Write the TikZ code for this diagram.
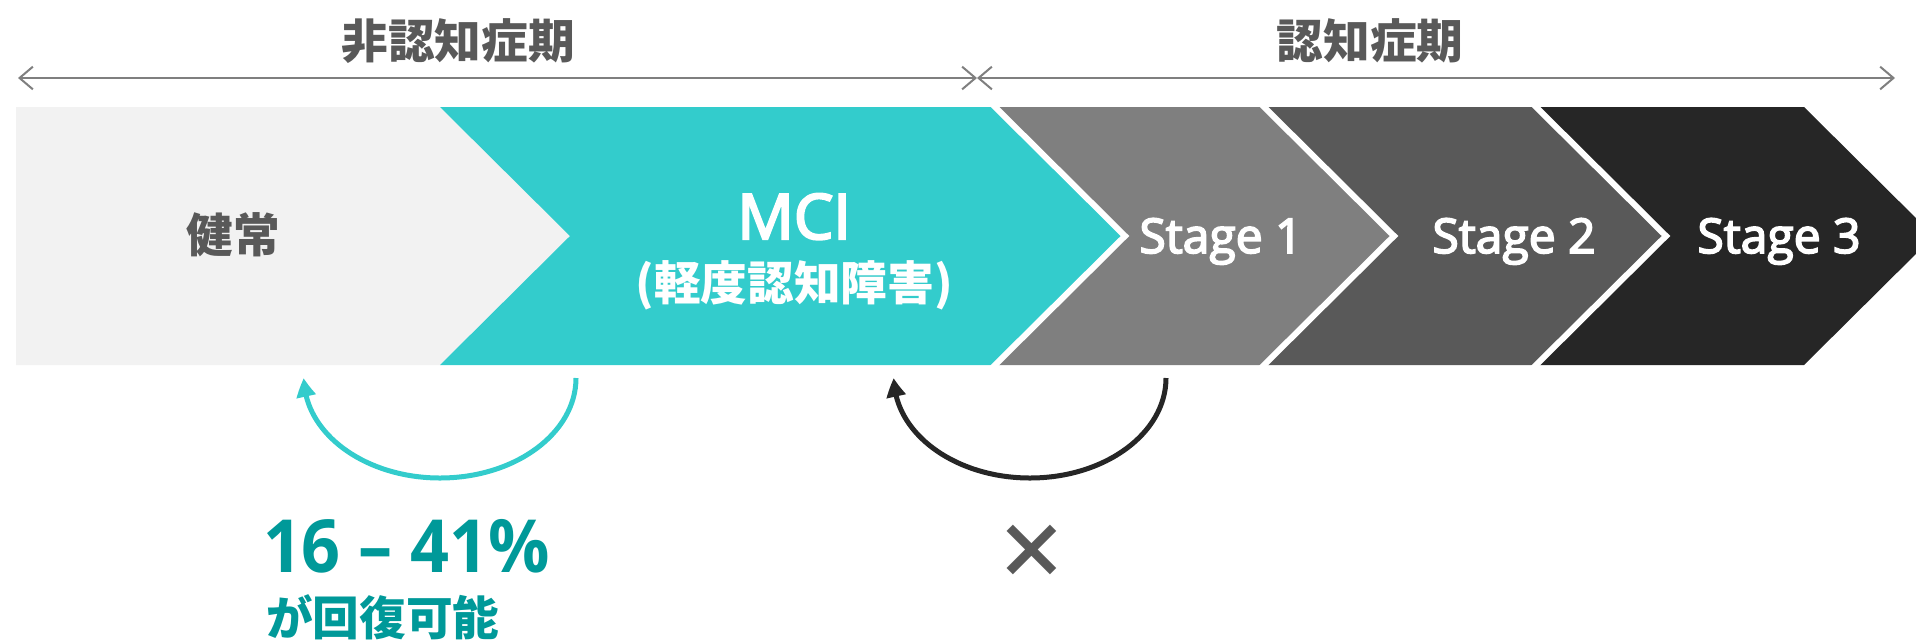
\documentclass[tikz,border=0pt]{standalone}
\usepackage{fontspec}
\setmainfont{Noto Sans CJK JP}
\newfontfamily\jp{Noto Sans CJK JP}
\newfontfamily\lat{Open Sans}
\newfontfamily\latsemi{Open Sans}[FakeBold=3.5]
\newfontfamily\latnum{Open Sans}[FakeStretch=0.93]
\usetikzlibrary{arrows.meta,bending}
\definecolor{teal1}{HTML}{33CCCC}
\definecolor{tealdark}{HTML}{009999}
\definecolor{txtgray}{HTML}{595959}
\definecolor{linegray}{HTML}{7F7F7F}
\definecolor{s1}{HTML}{7F7F7F}
\definecolor{s2}{HTML}{595959}
\definecolor{s3}{HTML}{262626}
\definecolor{healthy}{HTML}{F2F2F2}
\begin{document}
\begin{tikzpicture}[x=0.75pt,y=-0.75pt,
  every node/.style={inner sep=0pt,outer sep=0pt},
  jpbold/.style={font=\jp\bfseries\fontsize{35}{40}\selectfont},
  title/.style={jpbold,text=txtgray},
  stagelbl/.style={font=\latsemi\fontsize{36}{40}\selectfont,text=white,anchor=base},
  sep/.style={draw=white,line width=4.5pt},
  period/.style={draw=linegray,line width=1.5pt,>={Straight Barb[length=10pt,width=17pt]},<->},
  loop/.style={line width=3.75pt,-{Triangle[length=14pt,width=14pt,bend]}}
]
\clip (0,0) rectangle (1916,640);
\useasboundingbox (0,0) rectangle (1916,640);
% bands
\fill[healthy] (16,107) -- (440,107) -- (570,236) -- (440,365) -- (16,365) -- cycle;
\fill[teal1] (440,107) -- (995,107) -- (1125,236) -- (995,365) -- (440,365) -- (570,236) -- cycle;
\fill[s1] (995,107) -- (1264,107) -- (1394,236) -- (1264,365) -- (995,365) -- (1125,236) -- cycle;
\fill[s2] (1264,107) -- (1536,107) -- (1666,236) -- (1536,365) -- (1264,365) -- (1394,236) -- cycle;
\fill[s3] (1536,107) -- (1804,107) -- (1934,236) -- (1804,365) -- (1536,365) -- (1666,236) -- cycle;
\draw[sep] (990,102) -- (1125,236) -- (990,370);
\draw[sep] (1259,102) -- (1394,236) -- (1259,370);
\draw[sep] (1531,102) -- (1666,236) -- (1531,370);
% period arrows
\coordinate (pL) at (18,78);
\coordinate (pM) at (977,78);
\coordinate (pR) at (1895,78);
\draw[period] (pL) -- (pM);
\draw[period] (pM) -- (pR);
\node[title] (t1) at (458,41) {非認知症期};
\node[title] (t2) at (1370,41) {認知症期};
% labels
\node[title] (kenjo) at (233,235) {健常};
\node[font=\latsemi\fontsize{47}{50}\selectfont,text=white,anchor=base] (mci) at (794,239) {MCI};
\node[jpbold,text=white] (mcisub) at (794,285) {(軽度認知障害)};
\node[stagelbl] (st1) at (1221,253) {Stage 1};
\node[stagelbl] (st2) at (1514,253) {Stage 2};
\node[stagelbl] (st3) at (1779,253) {Stage 3};
% loops
\coordinate (r1s) at (576,378);
\coordinate (r2s) at (1166,378);
\draw[loop,teal1] (r1s) arc[start angle=0,end angle=180,x radius=136,y radius=100];
\draw[loop,s3] (r2s) arc[start angle=0,end angle=180,x radius=136,y radius=100];
\node[font=\latnum\bfseries\fontsize{55}{60}\selectfont,text=tealdark,anchor=base west] (pct) at (263,572) {16 – 41\%};
\node[jpbold,text=tealdark,anchor=west] (recov) at (266,617) {が回復可能};
\node[font=\jp\bfseries\fontsize{56}{60}\selectfont,text=txtgray] (no) at (1032,552) {×};
\end{tikzpicture}
\end{document}
